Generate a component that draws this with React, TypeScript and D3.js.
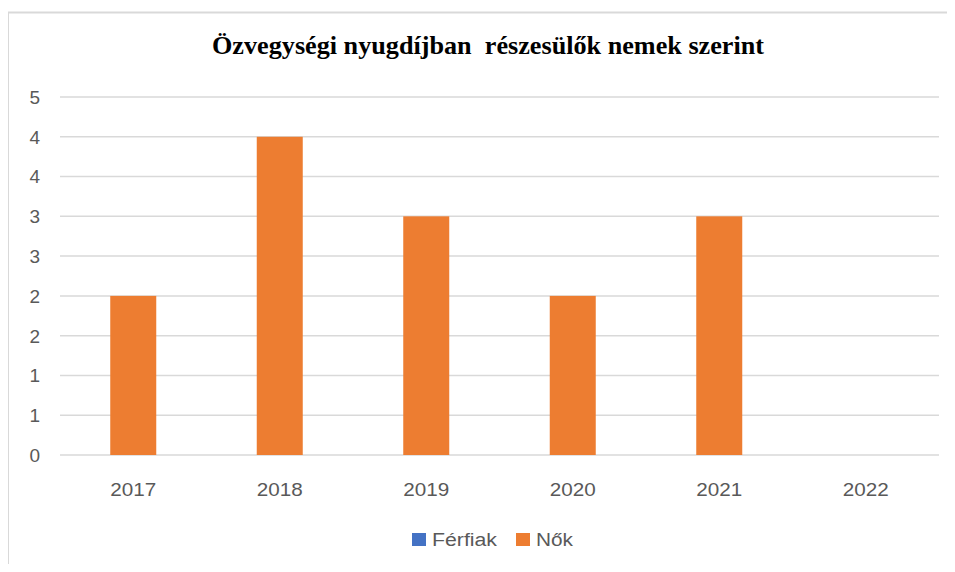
import React from "react";
import * as d3 from "d3";

const title = "Özvegységi nyugdíjban  részesülők nemek szerint";
const categories = ["2017", "2018", "2019", "2020", "2021", "2022"];
const seriesNames = ["Férfiak", "Nők"];
const ferfiak = [0, 0, 0, 0, 0, 0];
const nok = [2, 4, 3, 2, 3, 0];
const yTicks = [0, 0.5, 1, 1.5, 2, 2.5, 3, 3.5, 4, 4.5];
const colors = ["#4472C4", "#ED7D31"];

export default function App() {
  const W = 955;
  const H = 572;
  const left = 60;
  const right = 939;
  const top = 97;
  const bottom = 455;

  const x = d3.scaleBand<string>().domain(categories).range([left, right]).paddingInner(0.686).paddingOuter(0.343);
  const y = d3.scaleLinear().domain([0, 4.5]).range([bottom, top]);
  const fmt = (v: number) => String(Math.round(v + 1e-9 === Math.floor(v) + 0.5 ? Math.floor(v) + 1 : v));
  const series = [ferfiak, nok];
  const sans = "'Liberation Sans', Arial, sans-serif";

  return (
    <div style={{ margin: -8 }}>
      <svg width={W} height={H} style={{ display: "block", background: "#fff" }}>
        <path d={`M8,${H} L8,12.5 L${W},12.5`} fill="none" stroke="#d9d9d9" strokeWidth={2} />
        <text
          x={488}
          y={54}
          textAnchor="middle"
          fontFamily="'Liberation Serif', 'Times New Roman', serif"
          fontWeight="bold"
          fontSize={25}
          textLength={552}
          lengthAdjust="spacingAndGlyphs"
          style={{ whiteSpace: "pre" }}
          fill="#000"
        >
          {title}
        </text>
        {yTicks.map((t) => (
          <g key={t}>
            <line x1={left} x2={right} y1={y(t)} y2={y(t)} stroke="#d9d9d9" strokeWidth={1.5} />
            <text x={40} y={y(t)} dy="0.36em" textAnchor="end" fontFamily={sans} fontSize={19} fill="#595959">
              {fmt(t)}
            </text>
          </g>
        ))}
        {series.map((vals, si) =>
          vals.map((v, i) =>
            v > 0 ? (
              <rect
                key={`${si}-${i}`}
                x={x(categories[i])!}
                width={x.bandwidth()}
                y={y(v)}
                height={y(0) - y(v)}
                fill={colors[si]}
              />
            ) : null
          )
        )}
        {categories.map((c) => (
          <text
            key={c}
            x={x(c)! + x.bandwidth() / 2}
            y={489}
            dy="0.36em"
            textAnchor="middle"
            fontFamily={sans}
            fontSize={19}
            textLength={46}
            lengthAdjust="spacingAndGlyphs"
            fill="#595959"
          >
            {c}
          </text>
        ))}
        {seriesNames.map((n, i) => {
          const lx = i === 0 ? 412 : 516;
          return (
            <g key={n}>
              <rect x={lx} y={533} width={14} height={13} fill={colors[i]} />
              <text
                x={lx + 20}
                y={546}
                fontFamily={sans}
                fontSize={18}
                textLength={i === 0 ? 65 : 37}
                lengthAdjust="spacingAndGlyphs"
                fill="#595959"
              >
                {n}
              </text>
            </g>
          );
        })}
      </svg>
    </div>
  );
}
